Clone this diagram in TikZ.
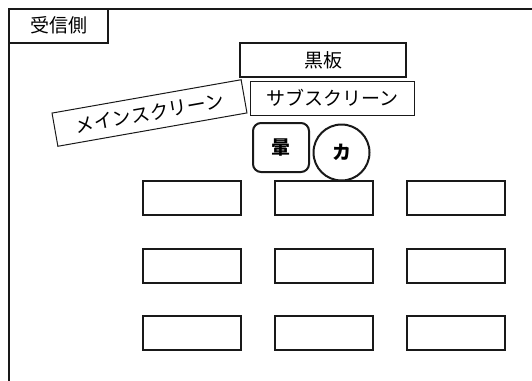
\documentclass[tikz,border=0pt]{standalone}
\usepackage{fontspec}
\newfontfamily\jp{Noto Sans CJK JP}
\begin{document}
\begin{tikzpicture}[x=1pt,y=-1pt,
  thickbox/.style={draw=black!90,line width=2pt,rectangle,inner sep=0pt,font=\jp\fontsize{19}{22}\selectfont},
  thinbox/.style={draw=black!90,line width=1pt,rectangle,inner sep=0pt,font=\jp\fontsize{19}{22}\selectfont},
  seat/.style={thickbox,minimum width=98pt,minimum height=34pt}]
\useasboundingbox (0,0) rectangle (532,380);
\coordinate (fb) at (9,382);
\coordinate (fc) at (9,8.5);
\coordinate (fr) at (534,8.5);
\draw[draw=black!90,line width=2pt] (fb) -- (fc) -- (fr);
\node[thickbox,minimum width=99pt,minimum height=34.5pt] (side) at (58.5,25.75) {受信側};
\node[thickbox,minimum width=166pt,minimum height=34pt] (board) at (323,60) {黒板};
\node[thinbox,minimum width=163.5pt,minimum height=34pt] (sub) at (332.25,98) {サブスクリーン};
\node[thinbox,minimum width=192pt,minimum height=33.7pt,rotate=10] (main) at (149.5,113) {メインスクリーン};
\node[thickbox,rounded corners=8pt,minimum width=56pt,minimum height=49pt,font=\jp\bfseries\fontsize{19}{22}\selectfont] (un) at (281,147.5) {暈};
\node[thickbox,circle,minimum size=56pt,font=\jp\bfseries\fontsize{19}{22}\selectfont] (ka) at (341.5,152.5) {カ};
\foreach \r/\y in {1/198,2/266,3/333}{
  \foreach \c/\x in {1/192,2/324,3/456}{
    \node[seat] (g-\r-\c) at (\x,\y) {};
  }
}
\end{tikzpicture}
\end{document}
